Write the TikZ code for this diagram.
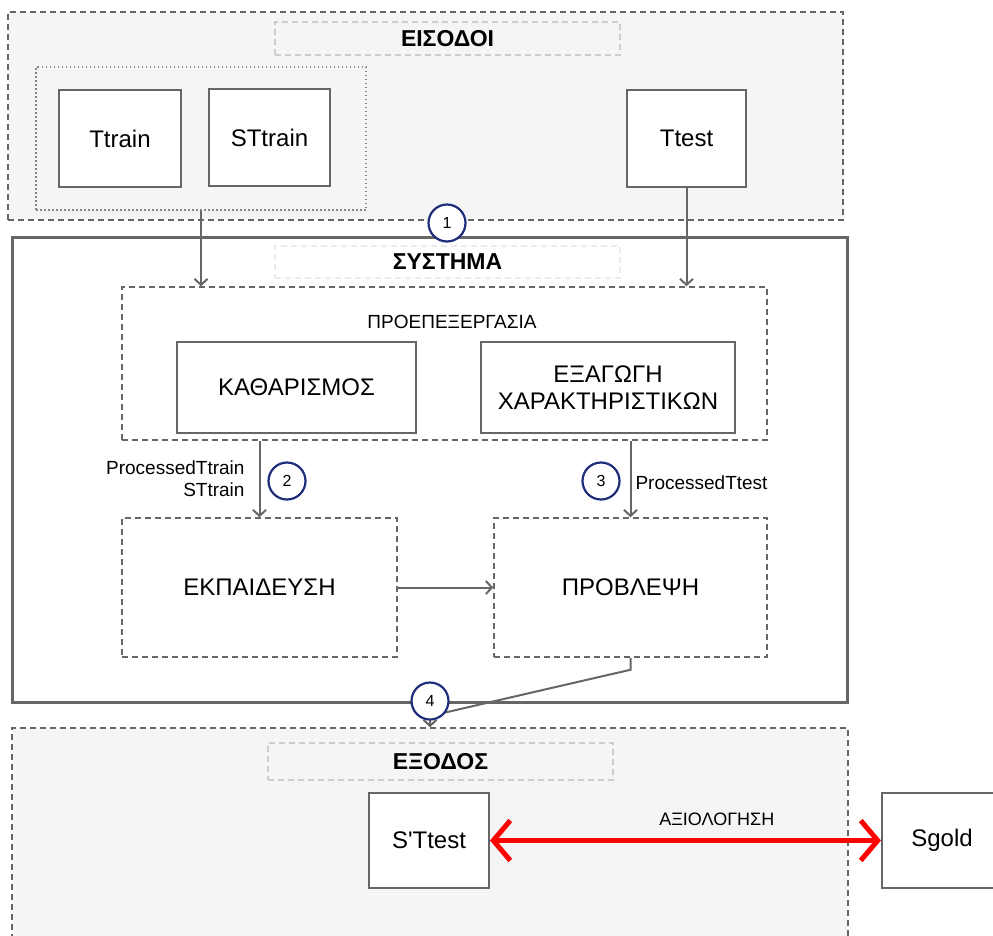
\documentclass[tikz,border=0pt]{standalone}
\usepackage{fontspec}
\setmainfont{Liberation Sans}
\usepackage{tikz}
\usetikzlibrary{arrows.meta}

\definecolor{edgegray}{HTML}{666666}
\definecolor{regionbg}{HTML}{F5F5F5}
\definecolor{numblue}{HTML}{1F2D7A}
\definecolor{titlegray}{HTML}{CCCCCC}
\definecolor{titlelight}{HTML}{EBEBEB}

\begin{document}
\begin{tikzpicture}[x=1pt, y=-1pt,
        region/.style={draw=edgegray, line width=1.5pt, dash pattern=on 6pt off 4pt, fill=regionbg, inner sep=0pt},
        titlebox/.style={draw=#1, line width=1.5pt, dash pattern=on 6pt off 4pt, minimum width=345pt, inner sep=0pt, font=\fontsize{23}{26}\selectfont\bfseries},
        box/.style={draw=edgegray, line width=2pt, fill=white, minimum width=#1, minimum height=97pt, inner sep=0pt, align=center, font=\fontsize{24}{27}\selectfont},
        stage/.style={draw=edgegray, line width=1.5pt, dash pattern=on 6pt off 4pt, inner sep=0pt, font=\fontsize{24}{27}\selectfont},
        small/.style={inner sep=0pt, align=center, font=\fontsize{19}{22}\selectfont},
        num/.style={circle, draw=numblue, line width=2.2pt, fill=white, minimum size=37pt, inner sep=0pt, font=\fontsize{16}{18}\selectfont},
        flow/.style={draw=edgegray, line width=2pt, -{Straight Barb[length=6pt, width=13pt]}},
        evalarrow/.style={draw=red, line width=5pt, {Straight Barb[length=17pt, width=40pt]}-{Straight Barb[length=17pt, width=40pt]}}]
        \clip (0,0) rectangle (993,935);

        % regions
        \node[region, minimum width=835pt, minimum height=208pt] at (425.5, 116) (inreg) {};
        \node[region, minimum width=836pt, minimum height=232pt] at (430, 844) (outreg) {};
        \node[draw=edgegray, line width=3pt, fill=white, minimum width=835pt, minimum height=465pt] at (429.5, 469.5) (sysreg) {};

        \node[titlebox=titlegray, minimum height=33pt] at (447.5, 38.5) (intitle) {ΕΙΣΟΔΟΙ};
        \node[titlebox=titlelight, minimum height=32pt] at (447.5, 262) (systitle) {ΣΥΣΤΗΜΑ};
        \node[titlebox=titlegray, minimum height=37pt] at (440.5, 761.5) (outtitle) {ΕΞΟΔΟΣ};

        % inputs
        \node[draw=edgegray!80, line width=1.5pt, dash pattern=on 1.5pt off 2.5pt, minimum width=330pt, minimum height=143pt] at (201, 138.5) (traingroup) {};
        \node[box=122pt] at (120, 138.5) (ttrain) {Ttrain};
        \node[box=121pt] at (269.5, 137.5) (sttrain) {STtrain};
        \node[box=119pt] at (686.5, 138.5) (ttest) {Ttest};

        % system
        \node[stage, minimum width=645pt, minimum height=153pt] at (444.5, 363.5) (pre) {};
        \node[small] at (452, 322) (prelabel) {ΠΡΟΕΠΕΞΕΡΓΑΣΙΑ};
        \node[box=239pt, minimum height=91pt] at (296.5, 387.5) (clean) {ΚΑΘΑΡΙΣΜΟΣ};
        \node[box=254pt, minimum height=91pt] at (608, 387.5) (features) {ΕΞΑΓΩΓΗ\\ΧΑΡΑΚΤΗΡΙΣΤΙΚΩΝ};
        \node[stage, minimum width=275pt, minimum height=139pt] at (259.5, 587.5) (train) {ΕΚΠΑΙΔΕΥΣΗ};
        \node[stage, minimum width=273pt, minimum height=139pt] at (630.5, 587.5) (predict) {ΠΡΟΒΛΕΨΗ};

        % outputs
        \node[box=120pt, minimum height=95pt] at (429, 840.5) (sttest) {S{\addfontfeatures{Ligatures=TeXOff}'}Ttest};
        \node[box=120pt, minimum height=95pt] at (942, 840.5) (sgold) {Sgold};

        \draw[flow] (traingroup.south) -- (traingroup.south |- pre.north);
        \draw[flow] (ttest.south) -- (ttest.south |- pre.north);
        \draw[flow] (train.north |- pre.south) -- (train.north)
            node[small, anchor=east, pos=0.5, xshift=-14pt] {ProcessedTtrain\\\hfill STtrain};
        \draw[flow] (predict.north |- pre.south) -- (predict.north)
            node[small, anchor=west, pos=0.55, xshift=4pt] {ProcessedTtest};
        \draw[flow] (train.east) -- (predict.west);
        \coordinate (bend) at (430, 716);
        \draw[flow] (predict.south) -- ++(0, 12) -- (bend) -- (bend |- outreg.north);
        \draw[evalarrow] (sttest.east) -- (sgold.west)
            node[small, pos=0.58, above=12pt, font=\fontsize{18}{20}\selectfont] {ΑΞΙΟΛΟΓΗΣΗ};

        \node[num] at (447, 223) (n1) {1};
        \node[num] at (287, 481) (n2) {2};
        \node[num] at (601, 481) (n3) {3};
        \node[num] at (430, 701) (n4) {4};
    \end{tikzpicture}
\end{document}
